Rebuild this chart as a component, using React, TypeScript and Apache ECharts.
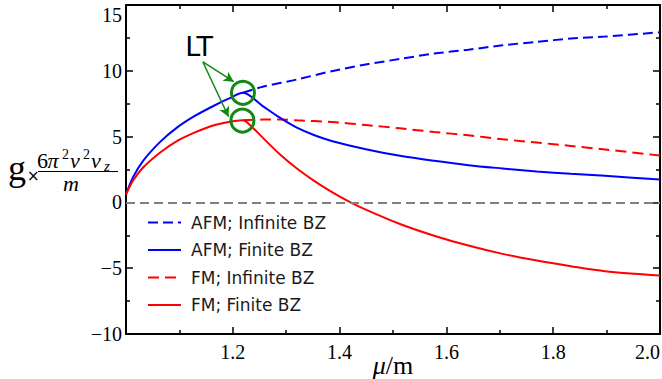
import React, { useEffect, useRef } from 'react';
import * as echarts from 'echarts';

// shared rising branch (below the LT point)
const muRise = [1.0, 1.013, 1.032, 1.064, 1.096, 1.128, 1.16, 1.192, 1.219];
const afmRise = [0.6, 1.9, 3.16, 4.6, 5.7, 6.55, 7.25, 7.88, 8.33];
const fmRise = [0.6, 1.64, 2.65, 3.79, 4.67, 5.3, 5.81, 6.11, 6.24];

// branches above the LT point
const muHigh = [1.219, 1.256, 1.32, 1.385, 1.449, 1.513, 1.577, 1.641, 1.705, 1.769, 1.833, 1.897, 2.0];
const afmInfinite = [8.33, 8.79, 9.34, 9.97, 10.48, 10.9, 11.31, 11.6, 11.94, 12.2, 12.45, 12.6, 12.93];

const muAfmFin = [1.219, 1.256, 1.288, 1.32, 1.353, 1.385, 1.449, 1.513, 1.577, 1.641, 1.705, 1.769, 1.833, 1.897, 2.0];
const afmFinite = [8.33, 7.32, 6.44, 5.68, 5.1, 4.67, 4.04, 3.54, 3.16, 2.83, 2.58, 2.35, 2.17, 2.02, 1.74];

const muFmInf = [1.219, 1.256, 1.288, 1.32, 1.385, 1.449, 1.513, 1.577, 1.641, 1.705, 1.769, 1.833, 1.897, 2.0];
const fmInfinite = [6.24, 6.29, 6.29, 6.24, 6.11, 5.88, 5.63, 5.35, 5.1, 4.8, 4.55, 4.29, 4.02, 3.56];

const muFmFin = [1.219, 1.237, 1.256, 1.288, 1.32, 1.353, 1.385, 1.417, 1.449, 1.513, 1.577, 1.641, 1.705, 1.769, 1.833, 1.897, 2.0];
const fmFinite = [6.24, 5.68, 4.92, 3.66, 2.58, 1.62, 0.8, 0.08, -0.55, -1.64, -2.53, -3.28, -3.91, -4.42, -4.85, -5.23, -5.56];

const legendNames = ['AFM; Infinite BZ', 'AFM; Finite BZ', 'FM; Infinite BZ', 'FM; Finite BZ'];

// annotation anchors (data coordinates)
const ltLabel = [1.137, 11.88];
const ltArrowStart = [1.144, 10.67];
const ltArrowEnds = [[1.2017, 9.17], [1.192, 6.51]];
const ltPoints = [[1.219, 8.33], [1.218, 6.22]];

const BLUE = '#0000ff';
const RED = '#ff0000';
const GREEN = '#118811';
const SERIF = '"Liberation Serif", "Times New Roman", serif';
const SANS = '"DejaVu Sans", Verdana, sans-serif';

const zip = (xs: number[], ys: number[]) => xs.map((x, i) => [x, ys[i]]);

export default function App() {
  const ref = useRef<HTMLDivElement>(null);
  useEffect(() => {
    if (!ref.current) return;
    const chart = echarts.init(ref.current, undefined, { renderer: 'svg' });
    const yFmt = (v: number) => (v < 0 ? '\u2212' + Math.abs(v) : String(v));
    const xFmt = (v: number) => (Math.abs(v - 1) < 1e-9 ? '' : v.toFixed(1));
    const axisLine = { show: true, onZero: false, lineStyle: { color: '#000', width: 2 } };
    const tick = { show: true, inside: true, length: 7, lineStyle: { color: '#000', width: 1.5 } };
    const minor = { show: true, splitNumber: 2, length: 4, lineStyle: { color: '#000', width: 1.5 } };
    const lineCommon = { type: 'line', smooth: 0.3, symbol: 'none' };
    chart.setOption({
      animation: false,
      backgroundColor: '#fff',
      grid: { left: 126, right: 2, top: 5, bottom: 45, containLabel: false, outerBoundsMode: 'none' },
      legend: {
        data: legendNames,
        orient: 'vertical',
        left: 147,
        top: 213,
        padding: 0,
        itemWidth: 33,
        itemHeight: 14,
        itemGap: 8.5,
        itemStyle: { opacity: 0 },
        textStyle: { fontFamily: SANS, fontSize: 17, color: '#1a1a1a', lineHeight: 19, padding: [0, 0, 0, 5] },
      },
      xAxis: [
        {
          type: 'value', min: 1, max: 2, interval: 0.2, position: 'bottom',
          axisLine, axisTick: tick, minorTick: minor, splitLine: { show: false },
          axisLabel: { formatter: xFmt, fontFamily: SERIF, fontSize: 20, color: '#000', margin: 8, alignMaxLabel: 'right' },
          name: '{i|\u03bc}{r|/m}', nameLocation: 'middle', nameGap: 19, nameMoveOverlap: false,
          nameTextStyle: {
            rich: {
              i: { fontFamily: SERIF, fontStyle: 'italic', fontSize: 26, lineHeight: 24, color: '#000' },
              r: { fontFamily: SERIF, fontSize: 26, lineHeight: 24, color: '#000' },
            },
          },
        },
        {
          type: 'value', min: 1, max: 2, interval: 0.2, position: 'top',
          axisLine, axisTick: tick, minorTick: minor, splitLine: { show: false }, axisLabel: { show: false },
        },
      ],
      yAxis: [
        {
          type: 'value', min: -10, max: 15, interval: 5, position: 'left',
          axisLine, axisTick: tick, minorTick: minor, splitLine: { show: false },
          axisLabel: { formatter: yFmt, fontFamily: SERIF, fontSize: 20, color: '#000', margin: 4, verticalAlignMaxLabel: 'top' },
        },
        {
          type: 'value', min: -10, max: 15, interval: 5, position: 'right',
          axisLine, axisTick: tick, minorTick: minor, splitLine: { show: false }, axisLabel: { show: false },
        },
      ],
      graphic: [
        { type: 'text', x: 8, y: 168, style: { text: 'g', font: '36px ' + SERIF, fill: '#000', verticalAlign: 'middle' } },
        { type: 'text', x: 27, y: 176, style: { text: '\u00d7', font: '15px ' + SANS, fill: '#000', verticalAlign: 'middle' } },
        { type: 'text', x: 37, y: 160, style: { text: '6', font: '22px ' + SERIF, fill: '#000', verticalAlign: 'middle' } },
        { type: 'text', x: 47.5, y: 160, style: { text: '\u03c0', font: 'italic 22px ' + SERIF, fill: '#000', verticalAlign: 'middle' } },
        { type: 'text', x: 62, y: 154, style: { text: '2', font: '14px ' + SERIF, fill: '#000', verticalAlign: 'middle' } },
        { type: 'text', x: 70, y: 160, style: { text: 'v', font: 'italic 22px ' + SERIF, fill: '#000', verticalAlign: 'middle' } },
        { type: 'text', x: 83, y: 154, style: { text: '2', font: '14px ' + SERIF, fill: '#000', verticalAlign: 'middle' } },
        { type: 'text', x: 91, y: 160, style: { text: 'v', font: 'italic 22px ' + SERIF, fill: '#000', verticalAlign: 'middle' } },
        { type: 'text', x: 104, y: 166, style: { text: 'z', font: 'italic 15px ' + SERIF, fill: '#000', verticalAlign: 'middle' } },
        { type: 'line', shape: { x1: 38, y1: 171.5, x2: 118, y2: 171.5 }, style: { stroke: '#000', lineWidth: 1.2 } },
        { type: 'text', x: 63, y: 183, style: { text: 'm', font: 'italic 22px ' + SERIF, fill: '#000', verticalAlign: 'middle' } },
      ],
      series: [
        {
          ...lineCommon, name: legendNames[0], z: 2,
          data: zip(muHigh, afmInfinite),
          lineStyle: { color: BLUE, width: 2, type: [10, 5] }, itemStyle: { color: BLUE },
        },
        {
          ...lineCommon, name: legendNames[2], z: 2,
          data: zip(muFmInf, fmInfinite),
          lineStyle: { color: RED, width: 2, type: [11, 6] }, itemStyle: { color: RED },
          markLine: {
            silent: true, symbol: ['none', 'none'], label: { show: false },
            lineStyle: { color: '#808080', width: 2, type: [9, 5] },
            data: [{ yAxis: 0 }],
          },
        },
        {
          ...lineCommon, name: legendNames[1], z: 3,
          data: zip(muRise, afmRise).concat(zip(muAfmFin, afmFinite).slice(1)),
          lineStyle: { color: BLUE, width: 2 }, itemStyle: { color: BLUE },
        },
        {
          ...lineCommon, name: legendNames[3], z: 3,
          data: zip(muRise, fmRise).concat(zip(muFmFin, fmFinite).slice(1)),
          lineStyle: { color: RED, width: 2 }, itemStyle: { color: RED },
          markLine: {
            silent: true, symbol: ['none', 'arrow'], symbolSize: [8, 10], label: { show: false },
            lineStyle: { color: GREEN, width: 1.5, type: 'solid' },
            data: ltArrowEnds.map((e) => [{ coord: ltArrowStart }, { coord: e }]),
          },
          markPoint: {
            silent: true,
            data: [
              ...ltPoints.map((p) => ({
                coord: p, symbol: 'circle', symbolSize: 23,
                itemStyle: { color: 'rgba(0,0,0,0)', borderColor: GREEN, borderWidth: 3 },
                label: { show: false },
              })),
              {
                coord: ltLabel, symbol: 'circle', symbolSize: 1,
                itemStyle: { color: 'rgba(0,0,0,0)' },
                label: { show: true, position: 'inside', formatter: 'LT', fontFamily: SANS, fontSize: 27, color: '#000' },
              },
            ],
          },
        },
      ],
    });
    return () => chart.dispose();
  }, []);
  return <div ref={ref} style={{ position: 'fixed', left: 0, top: 0, width: 662, height: 379, background: '#fff' }} />;
}
